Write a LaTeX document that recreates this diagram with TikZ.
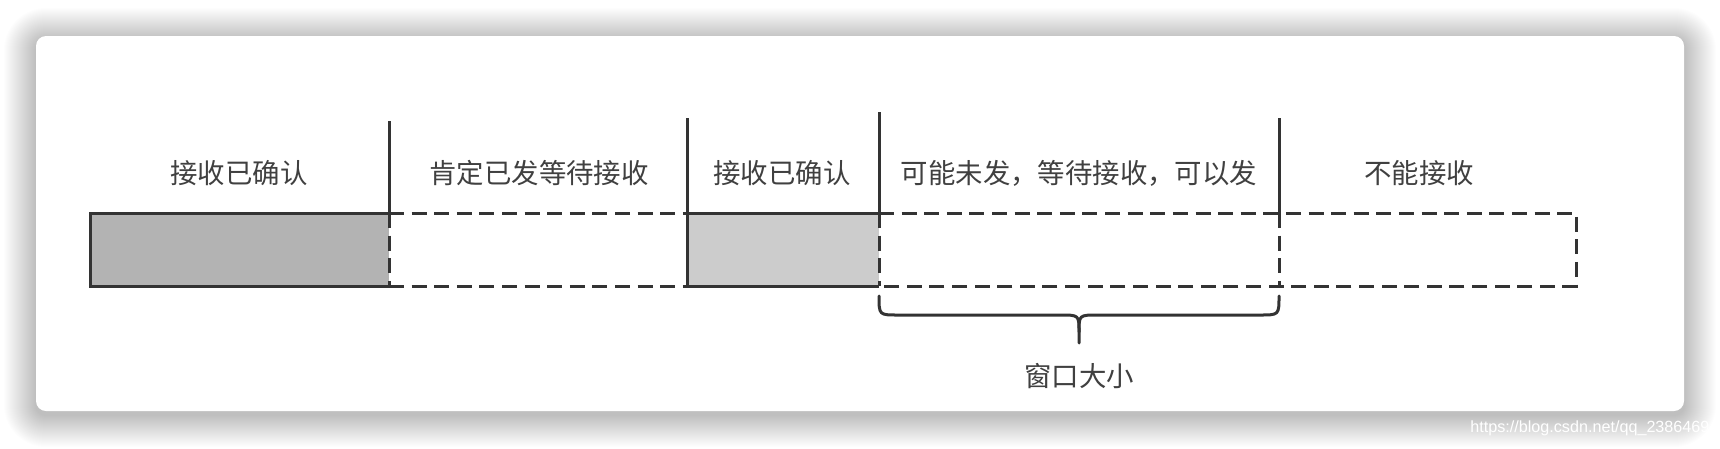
\documentclass[tikz,border=0pt]{standalone}
\usepackage{fontspec}
\newfontfamily\cjk{Noto Sans CJK SC}
\setsansfont{Liberation Sans}
\definecolor{bgcol}{HTML}{FFFFFF}
\definecolor{linecol}{HTML}{333333}
\definecolor{textcol}{HTML}{404040}
\definecolor{fillA}{HTML}{B3B3B3}
\definecolor{fillB}{HTML}{CCCCCC}
\tikzset{
  solidline/.style={draw=linecol, line width=0.075cm},
  dashline/.style={draw=linecol, line width=0.075cm, dash pattern=on 0.375cm off 0.19cm},
  lbl/.style={text=textcol, font=\cjk\fontsize{19.5pt}{22pt}\selectfont, inner sep=0pt},
  bracestyle/.style={draw=linecol, line width=0.075cm, line cap=round}
}
\begin{document}
\begin{tikzpicture}[x=0.025cm, y=-0.025cm]
\useasboundingbox (0,0) rectangle (1720,448);
\fill[bgcol] (0,0) rectangle (1720,448);
% soft shadow
\foreach \i in {1,...,32} {
  \pgfmathsetmacro{\rr}{(10+\i)*0.025}
  \fill[black, opacity=0.0075, rounded corners=\rr cm]
    (36-\i,36-\i+4) rectangle (1684+\i,411+\i+4);
}
\fill[white, rounded corners=0.25cm] (36,36) rectangle (1684,411);

% key coordinates
\coordinate (a1) at (90,213);  \coordinate (a2) at (90,286);
\coordinate (b1) at (389,213); \coordinate (b2) at (389,286); \coordinate (b0) at (389,121);
\coordinate (c1) at (687,213); \coordinate (c2) at (687,286); \coordinate (c0) at (687,118);
\coordinate (d1) at (879,213); \coordinate (d2) at (879,286); \coordinate (d0) at (879,112);
\coordinate (e1) at (1279,213); \coordinate (e2) at (1279,286); \coordinate (e0) at (1279,118);
\coordinate (f1) at (1576,213); \coordinate (f2) at (1576,286);

% grey boxes
\fill[fillA] (a1) rectangle (b2);
\fill[fillB] (c1) rectangle (d2);

% dashed parts
\draw[dashline] (b1) -- (c1);
\draw[dashline] (b2) -- (c2);
\draw[dashline] (b1) -- (b2);
\draw[dashline] (d1) -- (d2);
\draw[dashline] (e1) -- (e2);
\draw[dashline] (d1) -- (f1) -- (f2) -- (d2);

% solid parts
\draw[solidline] (b1) -- (a1) -- (a2) -- (b2);
\draw[solidline] (d1) -- (c1);
\draw[solidline] (c2) -- (d2);
\draw[solidline] (c0) -- (c2);
\draw[solidline] (b0) -- (b1);
\draw[solidline] (d0) -- (d1);
\draw[solidline] (e0) -- (e1);

% brace
\coordinate (bl) at (879,296);
\coordinate (br) at (1279,296);
\coordinate (bt) at (1079,343);
\draw[bracestyle] (bl) .. controls (879,315) .. (898,315) -- (1060,315)
  .. controls (1079,315) .. (1079,332) -- (bt);
\draw[bracestyle] (br) .. controls (1279,315) .. (1260,315) -- (1098,315)
  .. controls (1079,315) .. (1079,332);

% labels
\node[lbl] (l1) at (239,173) {接收已确认};
\node[lbl] (l2) at (539,173) {肯定已发等待接收};
\node[lbl] (l3) at (782,173) {接收已确认};
\node[lbl] (l4) at (1079,173) {可能未发，等待接收，可以发};
\node[lbl] (l5) at (1419,173) {不能接收};
\node[lbl] (l6) at (1079,376) {窗口大小};

% watermark
\node[anchor=west, text=white, font=\sffamily\fontsize{11.5pt}{13pt}\selectfont, inner sep=0pt] (wm) at (1470,428) {https://blog.csdn.net/qq\_2386469};
\end{tikzpicture}
\end{document}
